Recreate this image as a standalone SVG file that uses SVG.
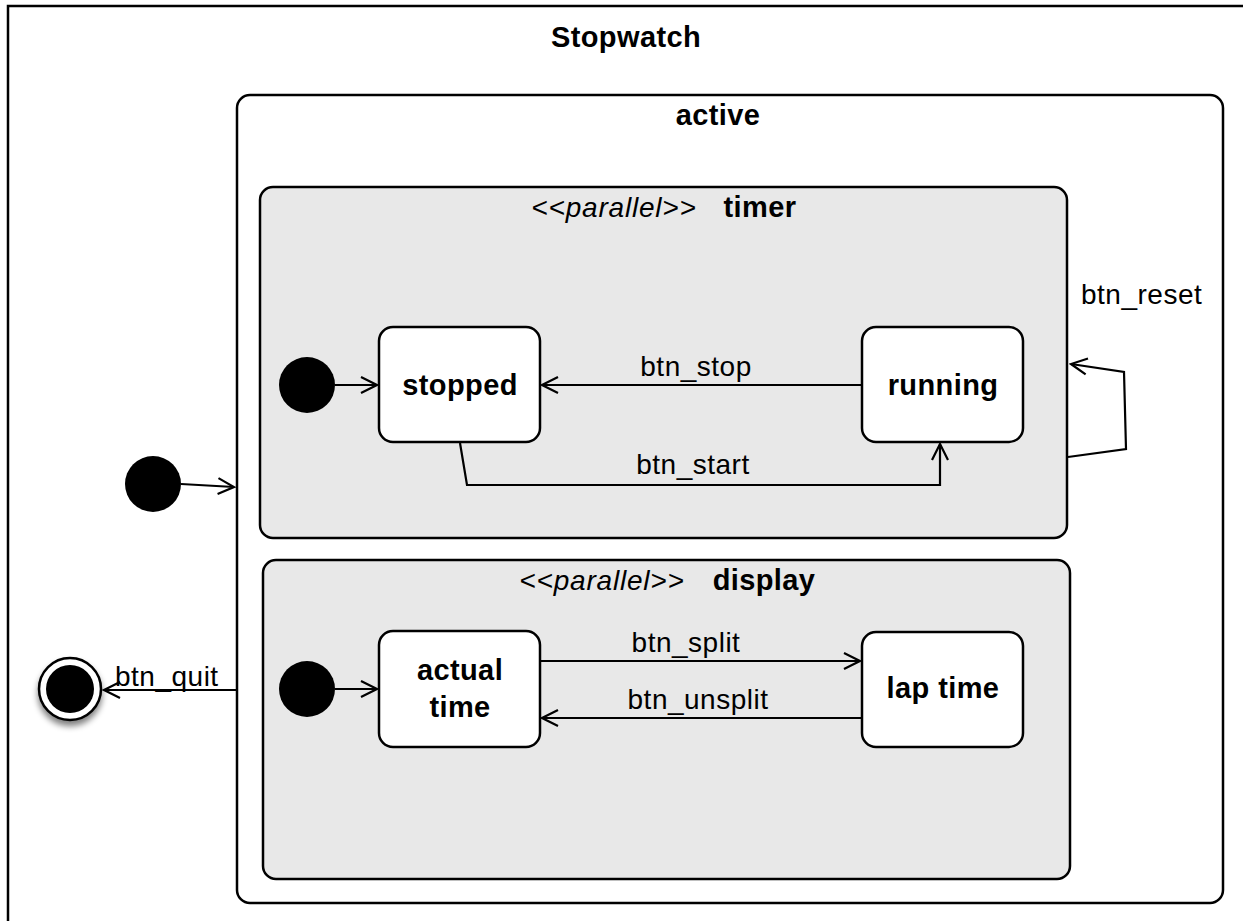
<svg xmlns="http://www.w3.org/2000/svg" width="1243" height="921" viewBox="0 0 1243 921">
<defs>
<style>
.frame{fill:#ffffff;stroke:#000;stroke-width:2.5}
.region{fill:#e8e8e8;stroke:#000;stroke-width:2.5}
.state{fill:#ffffff;stroke:#000;stroke-width:2.5}
.conn{fill:none;stroke:#000;stroke-width:2.2}
.lbl{font-family:"Liberation Sans",Arial,Helvetica,sans-serif;font-size:28px;fill:#000;letter-spacing:0.5px}
.title{font-family:"Liberation Sans",Arial,Helvetica,sans-serif;font-size:29px;font-weight:bold;fill:#000;letter-spacing:0.4px}
.ital{font-family:"Liberation Sans",Arial,Helvetica,sans-serif;font-size:28px;font-style:italic;fill:#000;letter-spacing:0.8px}
</style>
<marker id="arr" viewBox="0 0 20 20" refX="18" refY="10" markerWidth="20" markerHeight="20" markerUnits="userSpaceOnUse" orient="auto">
<path d="M2,2 L18,10 L2,18" fill="none" stroke="#000" stroke-width="2.2"/>
</marker>
<filter id="sh" x="-50%" y="-50%" width="200%" height="200%">
<feGaussianBlur in="SourceAlpha" stdDeviation="3"/>
<feOffset dx="0" dy="5" result="b"/>
<feComponentTransfer><feFuncA type="linear" slope="0.5"/></feComponentTransfer>
<feMerge><feMergeNode/><feMergeNode in="SourceGraphic"/></feMerge>
</filter>
</defs>
<rect width="1243" height="921" fill="#fff"/>
<g id="stopwatch">
<rect class="frame" x="8" y="6" width="1260" height="940"/>
<text class="title" x="626" y="47" text-anchor="middle">Stopwatch</text>
</g>
<g id="active">
<rect class="frame" x="237" y="95" width="986" height="808" rx="13" ry="13"/>
<text class="title" x="718" y="125" text-anchor="middle">active</text>
</g>
<g id="timer">
<rect class="region" x="260" y="187" width="807" height="351" rx="13" ry="13"/>
<text class="ital" x="614" y="217" text-anchor="middle">&lt;&lt;parallel&gt;&gt;</text>
<text class="title" x="760" y="217" text-anchor="middle">timer</text>
</g>
<g id="display">
<rect class="region" x="263" y="560" width="807" height="319" rx="13" ry="13"/>
<text class="ital" x="602" y="590" text-anchor="middle">&lt;&lt;parallel&gt;&gt;</text>
<text class="title" x="764" y="590" text-anchor="middle">display</text>
</g>
<g id="init-outer"><circle cx="153" cy="484" r="28" fill="#000"/></g>
<g id="final" filter="url(#sh)">
<circle cx="70" cy="689" r="31" fill="#fff" stroke="#000" stroke-width="2.5"/>
<circle cx="70" cy="689" r="24" fill="#000"/>
</g>
<g id="init-timer"><circle cx="307" cy="385" r="28" fill="#000"/></g>
<g id="init-display"><circle cx="307" cy="689" r="28" fill="#000"/></g>
<g id="stopped">
<rect class="state" x="379" y="327" width="161" height="115" rx="14" ry="14"/>
<text class="title" x="460" y="395" text-anchor="middle">stopped</text>
</g>
<g id="running">
<rect class="state" x="862" y="327" width="161" height="115" rx="14" ry="14"/>
<text class="title" x="943" y="395" text-anchor="middle">running</text>
</g>
<g id="actual-time">
<rect class="state" x="379" y="631" width="161" height="116" rx="14" ry="14"/>
<text class="title" x="460" y="680" text-anchor="middle">actual</text>
<text class="title" x="460" y="717" text-anchor="middle">time</text>
</g>
<g id="lap-time">
<rect class="state" x="862" y="632" width="161" height="115" rx="14" ry="14"/>
<text class="title" x="943" y="698" text-anchor="middle">lap time</text>
</g>
<g id="connectors">
<path class="conn" d="M181,484 L234,487" marker-end="url(#arr)"/>
<path class="conn" d="M237,690 L104,690" marker-end="url(#arr)"/>
<path class="conn" d="M335,385 L377,385" marker-end="url(#arr)"/>
<path class="conn" d="M862,385 L542,385" marker-end="url(#arr)"/>
<path class="conn" d="M460,443 L467,485 L940,485 L940,444" marker-end="url(#arr)"/>
<path class="conn" d="M1068,457 L1126,449 L1124,372 L1071,364" marker-end="url(#arr)"/>
<path class="conn" d="M335,689 L377,689" marker-end="url(#arr)"/>
<path class="conn" d="M541,661 L860,661" marker-end="url(#arr)"/>
<path class="conn" d="M862,718 L542,718" marker-end="url(#arr)"/>
<text class="lbl" x="115" y="686">btn_quit</text>
<text class="lbl" x="696" y="376" text-anchor="middle">btn_stop</text>
<text class="lbl" x="693" y="474" text-anchor="middle">btn_start</text>
<text class="lbl" x="1081" y="304">btn_reset</text>
<text class="lbl" x="686" y="652" text-anchor="middle">btn_split</text>
<text class="lbl" x="698" y="709" text-anchor="middle">btn_unsplit</text>
</g>
</svg>
